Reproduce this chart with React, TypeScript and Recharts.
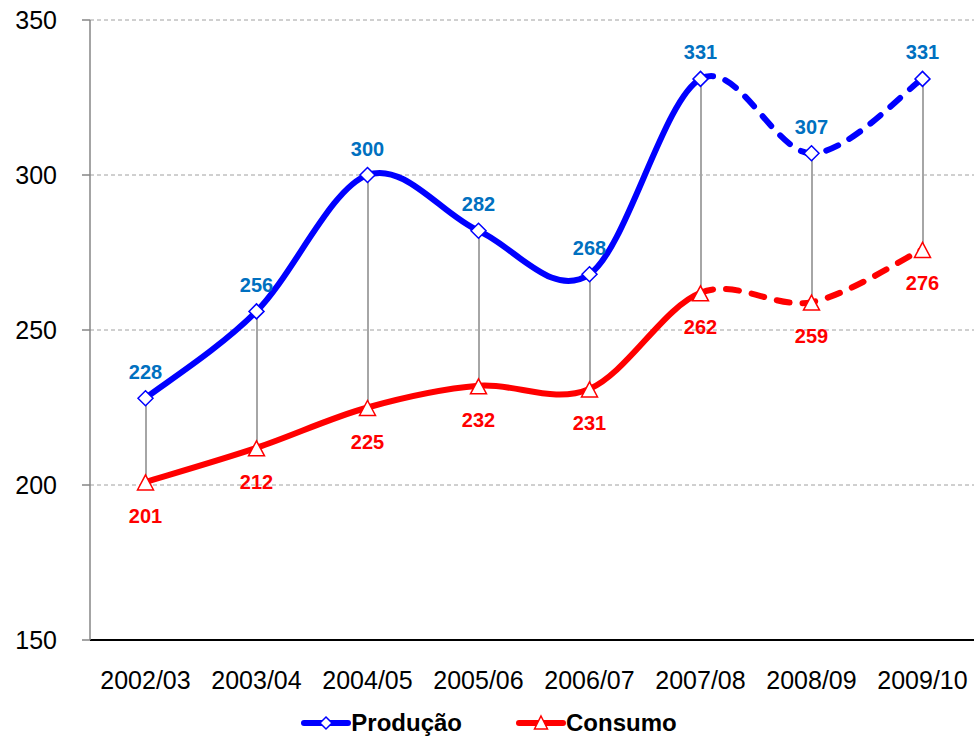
import React from 'react';
import { ComposedChart, Line, Bar, XAxis, YAxis, CartesianGrid, Legend } from 'recharts';

const categories = ['2002/03', '2003/04', '2004/05', '2005/06', '2006/07', '2007/08', '2008/09', '2009/10'];
const producao = [228, 256, 300, 282, 268, 331, 307, 331];
const consumo = [201, 212, 225, 232, 231, 262, 259, 276];
const yTicks = [150, 200, 250, 300, 350];

const BLUE = '#0000FF';
const RED = '#FF0000';
const BLUE_LABEL = '#0070C0';
const FONT = 'Arial, "Liberation Sans", sans-serif';

const data = categories.map((cat, i) => ({ cat, producao: producao[i], consumo: consumo[i] }));

// Catmull-Rom style smoothing (like Excel's smoothed lines), drawing only points from..to
const smoothRange = (from: number, to: number) => (context: any) => {
    let pts: number[][] = [];
    return {
        areaStart() {},
        areaEnd() {},
        lineStart() { pts = []; },
        point(x: number, y: number) { pts.push([+x, +y]); },
        lineEnd() {
            const n = pts.length;
            const a = Math.max(0, from);
            const b = Math.min(n - 1, to);
            if (b <= a) return;
            context.moveTo(pts[a][0], pts[a][1]);
            for (let i = a; i < b; i++) {
                const p0 = pts[Math.max(0, i - 1)];
                const p1 = pts[i];
                const p2 = pts[i + 1];
                const p3 = pts[Math.min(n - 1, i + 2)];
                context.bezierCurveTo(
                    p1[0] + (p2[0] - p0[0]) / 6, p1[1] + (p2[1] - p0[1]) / 6,
                    p2[0] - (p3[0] - p1[0]) / 6, p2[1] - (p3[1] - p1[1]) / 6,
                    p2[0], p2[1]
                );
            }
        },
    };
};

const Diamond = ({ cx, cy }: any) => (
    <path d={`M${cx},${cy - 7.5} L${cx + 7.5},${cy} L${cx},${cy + 7.5} L${cx - 7.5},${cy} Z`} fill="#fff" stroke={BLUE} strokeWidth={1.5} />
);

const Triangle = ({ cx, cy }: any) => (
    <path d={`M${cx},${cy - 7} L${cx + 8},${cy + 8} L${cx - 8},${cy + 8} Z`} fill="#fff" stroke={RED} strokeWidth={1.5} />
);

const blueLabel = ({ x, y, value }: any) => (
    <text x={x} y={y - 19.5} textAnchor="middle" fill={BLUE_LABEL} fontSize={20} fontWeight="bold" fontFamily={FONT}>{value}</text>
);

const redLabel = ({ x, y, value }: any) => (
    <text x={x} y={y + 41} textAnchor="middle" fill={RED} fontSize={20} fontWeight="bold" fontFamily={FONT}>{value}</text>
);

const LegendContent = () => (
    <div style={{ display: 'flex', justifyContent: 'center', alignItems: 'center', gap: 54, fontFamily: FONT, fontWeight: 'bold', fontSize: 24, color: '#000', paddingTop: 9 }}>
        <div style={{ display: 'flex', alignItems: 'center' }}>
            <svg width={50} height={20}>
                <line x1={3} y1={10} x2={47} y2={10} stroke={BLUE} strokeWidth={6} strokeLinecap="round" />
                <path d="M25,4 L31,10 L25,16 L19,10 Z" fill="#fff" stroke={BLUE} strokeWidth={1.5} />
            </svg>
            <span>Produção</span>
        </div>
        <div style={{ display: 'flex', alignItems: 'center' }}>
            <svg width={50} height={20}>
                <line x1={3} y1={10} x2={47} y2={10} stroke={RED} strokeWidth={6} strokeLinecap="round" />
                <path d="M25,3 L31.5,16 L18.5,16 Z" fill="#fff" stroke={RED} strokeWidth={1.5} />
            </svg>
            <span>Consumo</span>
        </div>
    </div>
);

export default function App() {
    return (
        <div style={{ position: 'absolute', left: 0, top: 0, width: 974, height: 740, overflow: 'hidden', background: '#fff' }}>
            <ComposedChart width={978} height={740} data={data} margin={{ top: 20, right: 0, bottom: 0, left: 0 }}>
                <CartesianGrid vertical={false} stroke="#a0a0a0" strokeDasharray="4 3" />
                <XAxis
                    dataKey="cat"
                    height={60}
                    tickSize={0}
                    tickMargin={31}
                    tickLine={false}
                    axisLine={{ stroke: '#000', strokeWidth: 2 }}
                    tick={{ fontSize: 25, fill: '#000', fontFamily: FONT }}
                    interval={0}
                />
                <YAxis
                    domain={[150, 350]}
                    ticks={yTicks}
                    width={90}
                    tickSize={8}
                    tickMargin={25}
                    axisLine={{ stroke: '#868686', strokeWidth: 1.5 }}
                    tickLine={{ stroke: '#868686', strokeWidth: 1.5 }}
                    tick={{ fontSize: 25, fill: '#000', fontFamily: FONT }}
                    allowDataOverflow
                />
                <Legend verticalAlign="bottom" height={40} content={<LegendContent />} />
                <Line dataKey="producao" type={smoothRange(0, 5) as any} stroke={BLUE} strokeWidth={6} strokeLinecap="round" dot={<Diamond />} activeDot={false} label={blueLabel} isAnimationActive={false} />
                <Line dataKey="producao" type={smoothRange(5, 7) as any} stroke={BLUE} strokeWidth={6} strokeDasharray="13 13" strokeLinecap="round" dot={false} activeDot={false} legendType="none" isAnimationActive={false} />
                <Line dataKey="consumo" type={smoothRange(0, 5) as any} stroke={RED} strokeWidth={6} strokeLinecap="round" dot={<Triangle />} activeDot={false} label={redLabel} isAnimationActive={false} />
                <Line dataKey="consumo" type={smoothRange(5, 7) as any} stroke={RED} strokeWidth={6} strokeDasharray="13 13" strokeLinecap="round" dot={false} activeDot={false} legendType="none" isAnimationActive={false} />
                <Bar dataKey={(d: any) => [d.consumo, d.producao]} barSize={2} fill="#a6a6a6" isAnimationActive={false} />
            </ComposedChart>
        </div>
    );
}
